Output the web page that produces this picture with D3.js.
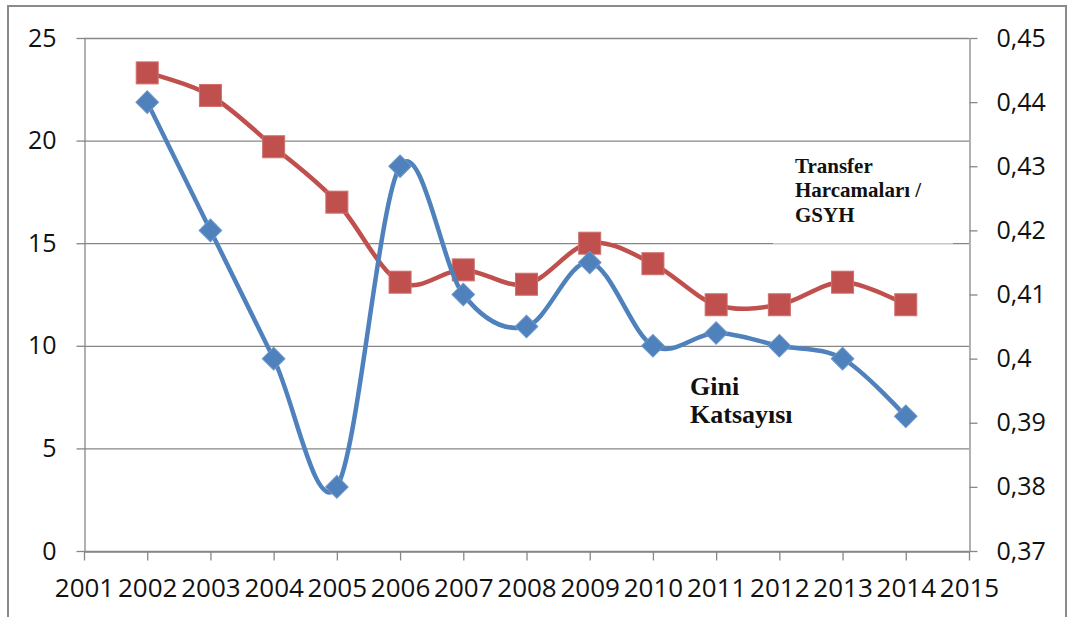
<!DOCTYPE html>
<html>
<head>
<meta charset="utf-8">
<script src="https://cdn.jsdelivr.net/npm/d3@7"></script>
<style>
    body { margin: 0; background: #fff; }
    svg { display: block; }
</style>
</head>
<body>
<script>
var width = 1073
var height = 617

var years = [2002, 2003, 2004, 2005, 2006, 2007, 2008, 2009, 2010, 2011, 2012, 2013, 2014]
// Transfer Harcamalari / GSYH (sol eksen)
var transfer = [23.3, 22.2, 19.7, 17.0, 13.1, 13.7, 13.0, 15.0, 14.0, 12.0, 12.0, 13.1, 12.0]
// Gini katsayisi (sag eksen)
var gini = [0.44, 0.42, 0.4, 0.38, 0.43, 0.41, 0.405, 0.415, 0.402, 0.404, 0.402, 0.4, 0.391]

var xTicks = d3.range(2001, 2016)
var leftTicks = [0, 5, 10, 15, 20, 25]
var rightTicks = [0.37, 0.38, 0.39, 0.4, 0.41, 0.42, 0.43, 0.44, 0.45]

var svg = d3.select('body').append('svg')
    .attr('width', width)
    .attr('height', height)

var x = d3.scaleLinear().domain([2001, 2015]).range([84, 969])
var yLeft = d3.scaleLinear().domain([0, 25]).range([551, 38])
var yRight = d3.scaleLinear().domain([0.37, 0.45]).range([551, 38])

var gray = '#878787'
var red = '#c0504d'
var blue = '#4f81bd'

// outer frame
svg.append('rect')
    .attr('x', 8)
    .attr('y', 6)
    .attr('width', 1058)
    .attr('height', 640)
    .attr('fill', 'none')
    .attr('stroke', '#8a8a8a')
    .attr('stroke-width', 2)

// grid
svg.append('g')
    .selectAll('line')
    .data(leftTicks)
    .enter()
    .append('line')
    .attr('x1', 84)
    .attr('x2', 969)
    .attr('y1', function (d) { return yLeft(d) + 0.5 })
    .attr('y2', function (d) { return yLeft(d) + 0.5 })
    .attr('stroke', gray)
    .attr('stroke-width', 1.3)

function styleAxis(size) {
    return function (g) {
        g.select('.domain').attr('stroke', gray).attr('stroke-width', 1.3)
        g.selectAll('.tick line').attr('stroke', gray).attr('stroke-width', 1.3)
        g.selectAll('.tick text')
            .attr('fill', '#111')
            .style('font-family', '"Open Sans", sans-serif')
            .style('font-size', size + 'px')
    }
}

svg.append('g')
    .attr('transform', 'translate(84.5,0)')
    .call(d3.axisLeft(yLeft).tickValues(leftTicks).tickSize(8).tickSizeOuter(0).tickPadding(20))
    .call(styleAxis(25))

svg.append('g')
    .attr('transform', 'translate(969.5,0)')
    .call(d3.axisRight(yRight).tickValues(rightTicks).tickSize(8).tickSizeOuter(0).tickPadding(19)
        .tickFormat(function (d) { return String(+d.toFixed(2)).replace('.', ',') }))
    .call(styleAxis(25))

svg.append('g')
    .attr('transform', 'translate(0,551.5)')
    .call(d3.axisBottom(x).tickValues(xTicks).tickSize(9).tickSizeOuter(0).tickPadding(18)
        .tickFormat(d3.format('d')))
    .call(styleAxis(26))

// text box over the 15 gridline
svg.append('rect')
    .attr('x', 773)
    .attr('y', 146)
    .attr('width', 180)
    .attr('height', 98)
    .attr('fill', '#fff')
    .attr('opacity', 0.55)

var curve = d3.curveCardinal.tension(0)

var redPts = years.map(function (y, i) { return [x(y), yLeft(transfer[i])] })
var bluePts = years.map(function (y, i) { return [x(y), yRight(gini[i])] })

svg.append('path')
    .attr('d', d3.line().curve(curve)(redPts))
    .attr('fill', 'none')
    .attr('stroke', red)
    .attr('stroke-width', 4.5)
    .attr('stroke-linejoin', 'round')

svg.append('g')
    .selectAll('rect')
    .data(redPts)
    .enter()
    .append('rect')
    .attr('x', function (d) { return d[0] - 11 })
    .attr('y', function (d) { return d[1] - 11 })
    .attr('width', 22)
    .attr('height', 22)
    .attr('fill', red)
    .attr('stroke', '#cf6f6c')
    .attr('stroke-width', 1)

svg.append('path')
    .attr('d', d3.line().curve(curve)(bluePts))
    .attr('fill', 'none')
    .attr('stroke', blue)
    .attr('stroke-width', 4.5)
    .attr('stroke-linejoin', 'round')

svg.append('g')
    .selectAll('path')
    .data(bluePts)
    .enter()
    .append('path')
    .attr('d', d3.symbol(d3.symbolSquare, 256))
    .attr('transform', function (d) { return 'translate(' + d[0] + ',' + d[1] + ') rotate(45)' })
    .attr('fill', blue)
    .attr('stroke', '#6b95c8')
    .attr('stroke-width', 1)

// labels
var labelFont = '"Liberation Serif", "Times New Roman", serif'

var transferLabel = svg.append('text')
    .attr('font-family', labelFont)
    .attr('font-weight', 'bold')
    .attr('font-size', 21)
    .attr('fill', '#111')
transferLabel.append('tspan').attr('x', 795).attr('y', 173).text('Transfer')
transferLabel.append('tspan').attr('x', 795).attr('y', 197).text('Harcamaları /')
transferLabel.append('tspan').attr('x', 795).attr('y', 222).text('GSYH')

var giniLabel = svg.append('text')
    .attr('font-family', labelFont)
    .attr('font-weight', 'bold')
    .attr('font-size', 26)
    .attr('fill', '#111')
giniLabel.append('tspan').attr('x', 690).attr('y', 395).text('Gini')
giniLabel.append('tspan').attr('x', 690).attr('y', 423).text('Katsayısı')
</script>
</body>
</html>
